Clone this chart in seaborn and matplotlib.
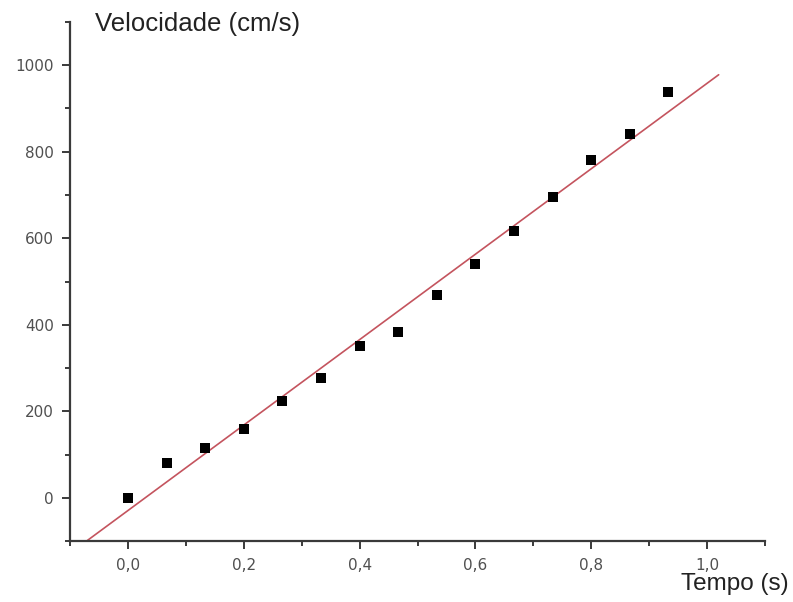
import numpy as np
import pandas as pd
import matplotlib
matplotlib.use("Agg")
import matplotlib.pyplot as plt
from matplotlib.ticker import FixedLocator, FixedFormatter, MultipleLocator
import seaborn as sns

# Data
tempo = [0.0, 0.0667, 0.1333, 0.2, 0.2667, 0.3333, 0.4, 0.4667, 0.5333, 0.6, 0.6667, 0.7333, 0.8, 0.8667, 0.9333]
velocidade = [0, 81, 114, 160, 223, 276, 350, 383, 469, 541, 617, 696, 782, 842, 937]
fit_range = [-0.07, 1.02]
x_ticks = [0.0, 0.2, 0.4, 0.6, 0.8, 1.0]
x_tick_labels = ["0,0", "0,2", "0,4", "0,6", "0,8", "1,0"]
y_ticks = [0, 200, 400, 600, 800, 1000]
y_tick_labels = ["0", "200", "400", "600", "800", "1000"]

sns.set_theme(style="ticks")
plt.rcParams["font.family"] = ["Liberation Sans", "DejaVu Sans"]

df = pd.DataFrame({"t": tempo, "v": velocidade})
slope, intercept = np.polyfit(df["t"], df["v"], 1)
fit_df = pd.DataFrame({"t": fit_range})
fit_df["v"] = slope * fit_df["t"] + intercept

fig = plt.figure(figsize=(7.93, 6.02), dpi=100)
ax = fig.add_axes([70/793, 1 - 541/602, (765 - 70)/793, (541 - 22)/602])

sns.lineplot(data=fit_df, x="t", y="v", ax=ax, color="#c4545e", linewidth=1.2)
sns.scatterplot(data=df, x="t", y="v", ax=ax, marker="s", s=45, color="black",
                edgecolor="black", linewidth=0, zorder=3)

ax.set_xlim(-0.1, 1.1)
ax.set_ylim(-100, 1100)

ax.xaxis.set_major_locator(FixedLocator(x_ticks))
ax.xaxis.set_major_formatter(FixedFormatter(x_tick_labels))
ax.yaxis.set_major_locator(FixedLocator(y_ticks))
ax.yaxis.set_major_formatter(FixedFormatter(y_tick_labels))
ax.xaxis.set_minor_locator(MultipleLocator(0.1))
ax.yaxis.set_minor_locator(MultipleLocator(100))

for sp in ["top", "right"]:
    ax.spines[sp].set_visible(False)
for sp in ["left", "bottom"]:
    ax.spines[sp].set_color("#3a3a3a")
    ax.spines[sp].set_linewidth(1.6)

ax.tick_params(axis="both", which="major", direction="out", length=5.5, width=1.4,
               color="#3a3a3a", labelsize=11, labelcolor="#505050")
ax.tick_params(axis="both", which="minor", direction="out", length=3.5, width=1.4,
               color="#3a3a3a")
ax.tick_params(axis="x", which="major", pad=7)
ax.tick_params(axis="y", which="major", pad=6)
for lab in ax.get_xticklabels() + ax.get_yticklabels():
    lab.set_fontfamily(["DejaVu Sans"])

ax.set_xlabel("")
ax.set_ylabel("")
fig.text(95/793, 1 - 24/602, "Velocidade (cm/s)", fontsize=18.5, color="#222222",
         ha="left", va="center")
fig.text(789/793, 1 - 584/602, "Tempo (s)", fontsize=17.5, color="#222222",
         ha="right", va="center")

fig.savefig("out.png", dpi=100, facecolor="white")
